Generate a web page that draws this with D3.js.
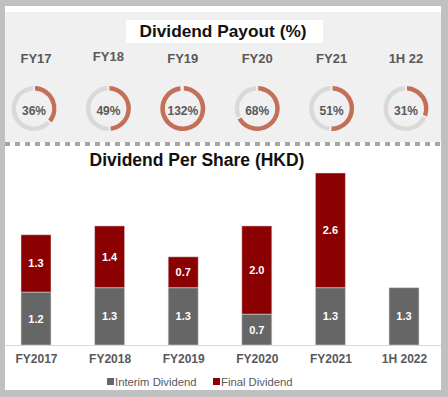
<!DOCTYPE html>
<html><head><meta charset="utf-8">
<script src="https://cdn.jsdelivr.net/npm/d3@7"></script>
<style>html,body{margin:0;padding:0;background:#c0c0c0;}svg{display:block;}</style>
</head><body>
<svg id="c" width="448" height="397"></svg>
<script>
const payoutLabels = ["FY17","FY18","FY19","FY20","FY21","1H 22"];
const payoutValues = [36,49,132,68,51,31];
const years = ["FY2017","FY2018","FY2019","FY2020","FY2021","1H 2022"];
const interimDiv = [1.2,1.3,1.3,0.7,1.3,1.3];
const finalDiv = [1.3,1.4,0.7,2.0,2.6,0];
const seriesNames = ["Interim Dividend","Final Dividend"];

const svg = d3.select("#c");
const FONT = "'Liberation Sans', Arial, sans-serif";
const GREY = "#666666", RED = "#8b0000", ORANGE = "#c47059", RING = "#d9d9d9", TXT = "#595959";

// frame
svg.append("rect").attr("x",0).attr("y",0).attr("width",448).attr("height",397).attr("fill","#c0c0c0");
svg.append("rect").attr("x",5).attr("y",6).attr("width",436).attr("height",384).attr("fill","#ffffff");
svg.append("rect").attr("x",5).attr("y",12).attr("width",436).attr("height",130).attr("fill","#f0f0f0");
// dashed separator
svg.append("line").attr("x1",5).attr("x2",441).attr("y1",144).attr("y2",144)
  .attr("stroke","#a6a6a6").attr("stroke-width",4).attr("stroke-dasharray","5,5");

// title 1
svg.append("rect").attr("x",126).attr("y",20).attr("width",197).attr("height",23).attr("fill","#fff");
svg.append("text").attr("x",223).attr("y",37).attr("text-anchor","middle")
  .attr("font-family",FONT).attr("font-weight","bold").attr("font-size",17.3).attr("fill","#111")
  .text("Dividend Payout (%)");

// donuts
const xp = d3.scalePoint().domain(payoutLabels).range([34,406]);
const arc = d3.arc().innerRadius(18).outerRadius(22.5);
payoutLabels.forEach((lab,i)=>{
  const g = svg.append("g").attr("transform",`translate(${xp(lab)},108.5)`);
  const p = Math.min(payoutValues[i],100);
  const pie = d3.pie().sort(null).padAngle(0.07)([p,100-p]);
  g.selectAll("path").data(pie).enter().append("path")
    .attr("d",arc).attr("fill",(d,j)=>j===0?ORANGE:RING);
  g.append("text").attr("y",6.5).attr("text-anchor","middle").attr("font-family",FONT)
    .attr("font-weight","bold").attr("font-size",12).attr("fill",TXT).text(payoutValues[i]+"%");
  svg.append("text").attr("x",xp(lab)+ (i===0?2:0)).attr("y",i===1?61:63).attr("text-anchor","middle")
    .attr("font-family",FONT).attr("font-weight","bold").attr("font-size",13).attr("fill",TXT).text(lab);
});

// title 2
svg.append("text").attr("x",197).attr("y",166).attr("text-anchor","middle")
  .attr("font-family",FONT).attr("font-weight","bold").attr("font-size",17.5).attr("fill","#111")
  .text("Dividend Per Share (HKD)");

// bars
const x = d3.scalePoint().domain(years).range([36,404]);
const y = d3.scaleLinear().domain([0,4]).range([345,345-176.4]);
const bw = 30;
const data = years.map((yr,i)=>({yr, interim:interimDiv[i], final:finalDiv[i]}));
const stack = d3.stack().keys(["interim","final"])(data);
const colors = [GREY, RED];
stack.forEach((layer,k)=>{
  const g = svg.append("g");
  layer.forEach(d=>{
    if(d[1]-d[0] <= 0) return;
    g.append("rect").attr("x",x(d.data.yr)-bw/2).attr("y",y(d[1]))
      .attr("width",bw).attr("height",y(d[0])-y(d[1])).attr("fill",colors[k])
      .attr("stroke","#e6e6e6").attr("stroke-opacity",0.5).attr("stroke-width",1);
    g.append("text").attr("x",x(d.data.yr)).attr("y",(y(d[0])+y(d[1]))/2+4)
      .attr("text-anchor","middle").attr("font-family",FONT).attr("font-weight","bold")
      .attr("font-size",11).attr("fill","#fff").text((d[1]-d[0]).toFixed(1));
  });
});
// axis
const ax = svg.append("g").attr("transform","translate(0,345)")
  .call(d3.axisBottom(x).tickSize(0).tickPadding(18));
ax.select(".domain").attr("d","M5,0.5H441").attr("stroke","#d9d9d9");
ax.selectAll("text").attr("font-family",FONT).attr("font-weight","bold").attr("font-size",12).attr("fill",TXT).attr("dy",0);

// legend
const leg = [{n:seriesNames[0],c:GREY,x:107},{n:seriesNames[1],c:RED,x:213}];
leg.forEach(l=>{
  svg.append("rect").attr("x",l.x).attr("y",378).attr("width",7).attr("height",7).attr("fill",l.c);
  svg.append("text").attr("x",l.x+8).attr("y",386).attr("font-family",FONT).attr("font-size",11.3)
    .attr("fill",TXT).text(l.n);
});
</script>
</body></html>
